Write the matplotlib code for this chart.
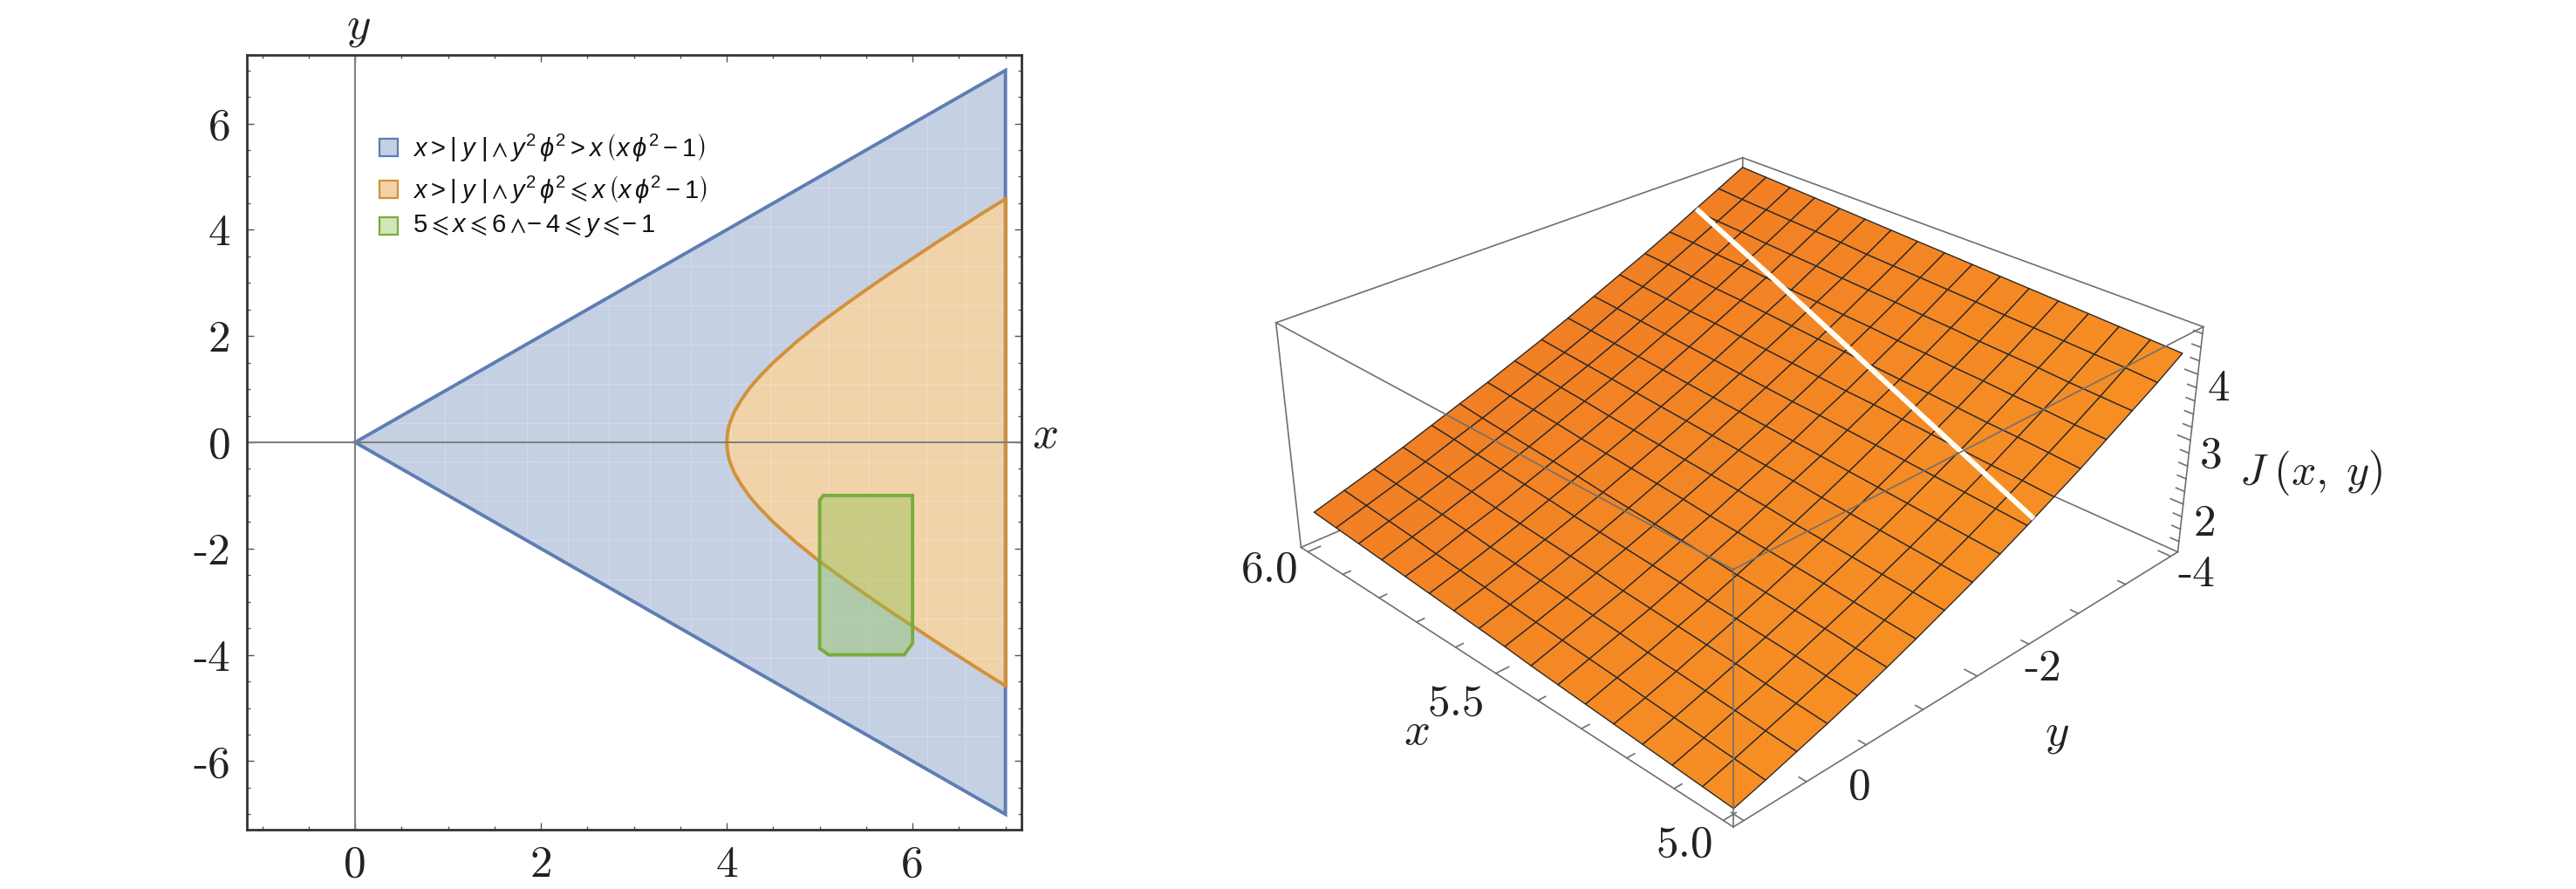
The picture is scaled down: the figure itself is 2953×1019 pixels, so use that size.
import numpy as np
import matplotlib.pyplot as plt
from matplotlib.colors import LinearSegmentedColormap
from matplotlib.patches import Rectangle

W, H = 2953, 1019

# left panel
wedge_x = [0, 7, 7]
wedge_y = [0, 7, -7]
curve_x = [7, 6.75, 6.5, 6.25, 6, 5.75, 5.5, 5.25, 5, 4.75, 4.5, 4.35, 4.25, 4.15, 4.08, 4.03, 4.01, 4, 4.01, 4.03, 4.08, 4.15, 4.25, 4.35,
           4.5, 4.75, 5, 5.25, 5.5, 5.75, 6, 6.25, 6.5, 6.75, 7]
curve_y = [4.58, 4.31, 4.03, 3.75, 3.46, 3.17, 2.87, 2.56, 2.24, 1.89, 1.5, 1.23, 1.03, 0.78, 0.57, 0.35, 0.2, 0, -0.2, -0.35, -0.57, -0.78, -1.03, -1.23,
           -1.5, -1.89, -2.24, -2.56, -2.87, -3.17, -3.46, -3.75, -4.03, -4.31, -4.58]
box_x = [5.04, 6, 6, 5.91, 5.1, 5, 5]
box_y = [-1, -1, -3.78, -4, -4, -3.88, -1.09]
mesh_x = [0.97, 1.41, 1.85, 2.29, 2.73, 3.17, 3.61, 4.05, 4.47, 5.1, 5.53, 6.16, 6.57]
mesh_y = [-5.54, -4.8, -4.06, -3.32, -2.58, -1.84, -1.1, -0.36, 0.36, 1.1, 1.84, 2.58, 3.32, 4.06, 4.8, 5.54]
xticks_left = [0, 2, 4, 6]
yticks_left = [-6, -4, -2, 0, 2, 4, 6]
legend_labels = [r'$x>|\;y\;|\wedge y^2\,\phi^2>x\,\left(x\,\phi^2-1\right)$',
                 r'$x>|\;y\;|\wedge y^2\,\phi^2\leqslant x\,\left(x\,\phi^2-1\right)$',
                 r'$5\leqslant x\leqslant 6\wedge\!\!-4\leqslant y\leqslant\!\!-1$']

# right panel, rows are x = 5 ... 6, columns are y = 0 ... -4
surf_x = [5, 5.0625, 5.125, 5.1875, 5.25, 5.3125, 5.375, 5.4375, 5.5, 5.5625, 5.625, 5.6875, 5.75, 5.8125, 5.875, 5.9375, 6]
surf_y = [0, -0.25, -0.5, -0.75, -1, -1.25, -1.5, -1.75, -2, -2.25, -2.5, -2.75, -3, -3.25, -3.5, -3.75, -4]
surf_z = [[1.31, 1.44, 1.58, 1.72, 1.87, 2.03, 2.20, 2.38, 2.56, 2.75, 2.95, 3.16, 3.37, 3.60, 3.83, 4.06, 4.31],
          [1.34, 1.47, 1.61, 1.75, 1.90, 2.06, 2.23, 2.41, 2.59, 2.78, 2.98, 3.19, 3.40, 3.62, 3.85, 4.09, 4.33],
          [1.37, 1.50, 1.64, 1.78, 1.94, 2.10, 2.26, 2.44, 2.62, 2.81, 3.01, 3.21, 3.43, 3.65, 3.87, 4.11, 4.35],
          [1.40, 1.53, 1.67, 1.82, 1.97, 2.13, 2.30, 2.47, 2.65, 2.84, 3.04, 3.24, 3.45, 3.67, 3.90, 4.13, 4.37],
          [1.43, 1.56, 1.70, 1.85, 2.00, 2.16, 2.33, 2.50, 2.68, 2.87, 3.07, 3.27, 3.48, 3.70, 3.92, 4.15, 4.39],
          [1.46, 1.60, 1.73, 1.88, 2.03, 2.19, 2.36, 2.53, 2.71, 2.90, 3.10, 3.30, 3.51, 3.72, 3.94, 4.17, 4.41],
          [1.49, 1.63, 1.77, 1.91, 2.07, 2.23, 2.39, 2.57, 2.75, 2.93, 3.13, 3.33, 3.53, 3.75, 3.97, 4.20, 4.43],
          [1.52, 1.66, 1.80, 1.94, 2.10, 2.26, 2.42, 2.60, 2.78, 2.96, 3.16, 3.35, 3.56, 3.77, 3.99, 4.22, 4.45],
          [1.56, 1.69, 1.83, 1.98, 2.13, 2.29, 2.46, 2.63, 2.81, 2.99, 3.18, 3.38, 3.59, 3.80, 4.02, 4.24, 4.47],
          [1.59, 1.72, 1.86, 2.01, 2.16, 2.32, 2.49, 2.66, 2.84, 3.02, 3.21, 3.41, 3.61, 3.82, 4.04, 4.26, 4.49],
          [1.62, 1.75, 1.89, 2.04, 2.19, 2.35, 2.52, 2.69, 2.87, 3.05, 3.24, 3.44, 3.64, 3.85, 4.06, 4.28, 4.51],
          [1.65, 1.78, 1.92, 2.07, 2.23, 2.39, 2.55, 2.72, 2.90, 3.08, 3.27, 3.47, 3.67, 3.87, 4.09, 4.31, 4.53],
          [1.68, 1.81, 1.96, 2.10, 2.26, 2.42, 2.58, 2.75, 2.93, 3.11, 3.30, 3.50, 3.70, 3.90, 4.11, 4.33, 4.55],
          [1.71, 1.85, 1.99, 2.14, 2.29, 2.45, 2.62, 2.79, 2.96, 3.14, 3.33, 3.52, 3.72, 3.93, 4.13, 4.35, 4.57],
          [1.74, 1.88, 2.02, 2.17, 2.32, 2.48, 2.65, 2.82, 2.99, 3.17, 3.36, 3.55, 3.75, 3.95, 4.16, 4.37, 4.59],
          [1.77, 1.91, 2.05, 2.20, 2.36, 2.51, 2.68, 2.85, 3.02, 3.20, 3.39, 3.58, 3.78, 3.98, 4.18, 4.39, 4.61],
          [1.80, 1.94, 2.08, 2.23, 2.39, 2.55, 2.71, 2.88, 3.05, 3.23, 3.42, 3.61, 3.80, 4.00, 4.21, 4.42, 4.63]]
gap_x = [5, 5.25, 5.5, 5.75, 6]
gap_y = [-2.56, -2.8, -3.04, -3.28, -3.52]
gap_z = [3.0, 3.31, 3.62, 3.93, 4.22]
lim_x = (4.98, 6.02)
lim_y = (-4.08, 0.08)
lim_z = (1.23, 4.7)
xt_minor = [5, 5.1, 5.2, 5.3, 5.4, 5.5, 5.6, 5.7, 5.8, 5.9, 6]
xt_major = [5, 5.5, 6]
yt_minor = [0, -0.5, -1, -1.5, -2, -2.5, -3, -3.5, -4]
yt_major = [0, -2, -4]
zt_minor = [1.4, 1.6, 1.8, 2, 2.2, 2.4, 2.6, 2.8, 3, 3.2, 3.4, 3.6, 3.8, 4, 4.2, 4.4, 4.6]
zt_major = [2, 3, 4]

plt.rcParams['mathtext.fontset'] = 'custom'
plt.rcParams['mathtext.rm'] = 'Liberation Sans'
plt.rcParams['mathtext.it'] = 'Liberation Sans:italic'
plt.rcParams['mathtext.bf'] = 'Liberation Sans:bold'
plt.rcParams['mathtext.fallback'] = 'stixsans'

fig = plt.figure(figsize=(W/100, H/100), dpi=100)


def label(px, py, s, size=37, **kw):
    # px, py are pixels from the top left of the image
    return fig.text(px/W, 1-py/H, s, fontsize=size, ha='center', va='center', color='#222222', **kw)


def cm(px, py, s, size=37):
    return label(px, py+4, s, size, fontfamily='cmr10')


def mi(px, py, s, size=38):
    return label(px, py, s, size, math_fontfamily='cm')


ax = fig.add_axes([282.5/W, 1-951/H, (1170.7-282.5)/W, (951-63)/H])
ax.set_xlim(-1.17, 7.17)
ax.set_ylim(-7.29, 7.29)

blue = ax.fill(wedge_x, wedge_y, fc='#C5D0E3', ec='none', zorder=1)[0]
orange = ax.fill(curve_x, curve_y, fc='#F0D3A8', ec='none', zorder=1.1)[0]
for v in mesh_x:
    ax.axvline(v, color='white', lw=0.8, alpha=0.22, zorder=1.2, clip_path=blue)
for v in mesh_y:
    ax.axhline(v, color='white', lw=0.8, alpha=0.22, zorder=1.2, clip_path=blue)
ax.plot(wedge_x+wedge_x[:1], wedge_y+wedge_y[:1], color='#5E7DB3', lw=2.8, zorder=2, solid_joinstyle='miter')
ax.plot(curve_x, curve_y, color='#D2913A', lw=2.8, zorder=2.1)
ax.plot([7, 7], [curve_y[0], curve_y[-1]], color='#D2913A', lw=2.8, zorder=2.1)
ax.fill(box_x, box_y, fc='#8EC150', alpha=0.4, ec='none', zorder=2.2)
ax.fill(box_x, box_y, fc='none', ec='#79AC3C', lw=2.8, zorder=2.3)
ax.axvline(0, color='#808080', lw=1.5, zorder=2.5)
ax.axhline(0, color='#808080', lw=1.5, zorder=2.5)

ax.set_xticks(xticks_left)
ax.set_yticks(yticks_left)
ax.set_xticks(np.arange(-1, 7.5, 0.5), minor=True)
ax.set_yticks(np.arange(-7, 7.5, 0.5), minor=True)
ax.tick_params(which='major', direction='in', length=5.5, width=1, color='#555555', top=True, right=True, pad=13)
ax.tick_params(which='minor', direction='in', length=3, width=1, color='#555555', top=True, right=True)
ax.set_xticklabels([str(v) for v in xticks_left], fontfamily='cmr10', fontsize=37, color='#222222')
ax.set_yticklabels([str(v) for v in yticks_left], fontfamily='cmr10', fontsize=37, color='#222222')
for s in ax.spines.values():
    s.set_linewidth(2)
    s.set_color('#333333')

mi(411, 30, r'$y$')
mi(1198, 498, r'$x$')

# legend drawn by hand, rows are not evenly spaced
for (top, fc, ec), s, cy in zip([(159, '#C5D0E3', '#5E7DB3'), (207, '#F0D3A8', '#D2913A'), (249, '#D2E6B9', '#79AC3C')],
                                legend_labels, [169, 217, 259]):
    fig.add_artist(Rectangle((435/W, 1-(top+20)/H), 21/W, 20/H, fc=fc, ec=ec, lw=1.6, transform=fig.transFigure))
    fig.text(473/W, 1-cy/H, s, fontsize=21, ha='left', va='center', color='#111111')

# right panel, camera fitted to the box corners
s3 = 5635.41
side = 0.185*s3
left3 = 1993.25-0.095*s3
bot3 = H-(504.75+0.095*s3)
ax3 = fig.add_axes([left3/W, bot3/H, side/W, side/H], projection='3d')
ax3.set_xlim(*lim_x, view_margin=0)
ax3.set_ylim(*lim_y, view_margin=0)
ax3.set_zlim(*lim_z, view_margin=0)
ax3.view_init(28.377, 135.531, -0.036)
ax3.set_proj_type('persp', focal_length=0.4398)
ax3.set_box_aspect((1, 1.0008, 0.4008))
ax3.set_axis_off()
ax3.patch.set_visible(False)
ax3.computed_zorder = False

x0, x1 = lim_x
y0, y1 = lim_y
z0, z1 = lim_z
box_col = '#707070'
lw_box = 1.2
hidden = [((x1, y0, z0), (x0, y0, z0)), ((x1, y0, z0), (x1, y1, z0)), ((x1, y0, z0), (x1, y0, z1))]
front = [((x0, y1, z0), (x1, y1, z0)), ((x0, y1, z0), (x0, y0, z0)), ((x1, y1, z0), (x1, y1, z1)), ((x0, y0, z0), (x0, y0, z1)),
         ((x0, y1, z0), (x0, y1, z1)), ((x0, y1, z1), (x1, y1, z1)), ((x0, y1, z1), (x0, y0, z1)),
         ((x1, y1, z1), (x1, y0, z1)), ((x0, y0, z1), (x1, y0, z1))]
for a, b in hidden:
    ax3.plot(*zip(a, b), color=box_col, lw=lw_box, zorder=1, clip_on=False)
Xg, Yg = np.meshgrid(surf_x, surf_y, indexing='ij')
cmap = LinearSegmentedColormap.from_list('surf', ['#F68E24', '#F17E24'])
surf = ax3.plot_surface(Xg, Yg, np.array(surf_z), facecolors=cmap(Xg-5), shade=False, rstride=1, cstride=1, edgecolor='#2E2A26', linewidth=1.0, zorder=2, antialiased=True)
surf.set_clip_on(False)
ax3.plot(gap_x, gap_y, gap_z, color='#FFFDF5', lw=4.3, zorder=2.5, solid_capstyle='butt', clip_on=False)
for a, b in front:
    ax3.plot(*zip(a, b), color=box_col, lw=lw_box, zorder=3, clip_on=False)

for v in xt_minor:
    d = 0.1 if v in xt_major else 0.06
    ax3.plot([v, v], [y1, y1-d], [z0, z0], color=box_col, lw=lw_box, zorder=3, clip_on=False)
for v in yt_minor:
    d = 0.025 if v in yt_major else 0.015
    ax3.plot([x0, x0+d], [v, v], [z0, z0], color=box_col, lw=lw_box, zorder=3, clip_on=False)
for v in zt_minor:
    d = 0.025 if v in zt_major else 0.017
    ax3.plot([x0, x0+d], [y0, y0], [v, v], color=box_col, lw=lw_box, zorder=3, clip_on=False)

cm(1456, 650, '6.0')
cm(1669, 803, '5.5')
cm(1931, 965, '5.0')
cm(2132, 899, '0')
cm(2342, 763, '-2')
cm(2518, 655, '-4')
cm(2543, 442, '4')
cm(2535, 519, '3')
cm(2527, 597, '2')
mi(1624, 838, r'$x$')
mi(2358, 840, r'$y$')
mi(2649, 542, r'$J\;(x,\;y)$', 36)

fig.savefig('out.png', dpi=100)
